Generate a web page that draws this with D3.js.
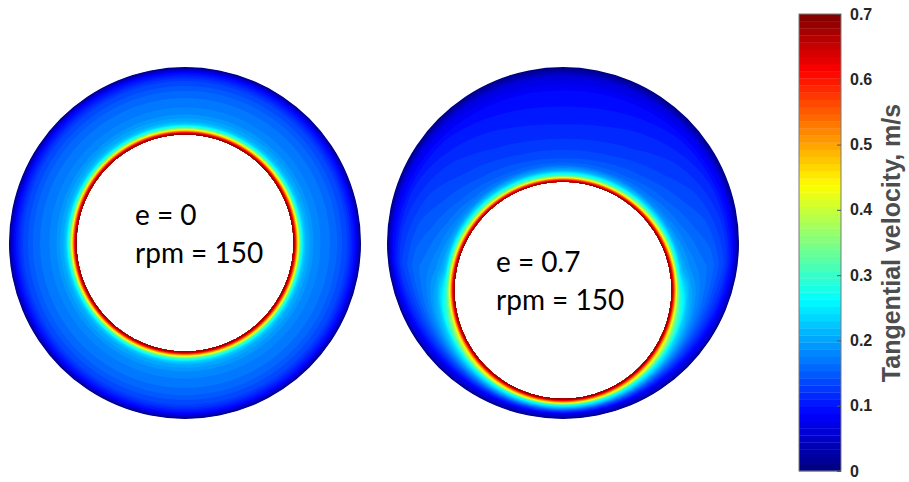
<!DOCTYPE html>
<html>
<head>
<meta charset="utf-8">
<script src="https://cdn.jsdelivr.net/npm/d3@7"></script>
<style>
  body { margin: 0; background: #fff; }
  svg { display: block; }
  .note { font-family: Lato, "Open Sans", sans-serif; font-size: 28px; fill: #000; }
  .cbtick { font-family: "Liberation Sans", Arial, sans-serif; font-weight: bold; font-size: 16px; fill: #262626; }
  .cblabel { font-family: "Liberation Sans", Arial, sans-serif; font-weight: bold; font-size: 25px; fill: #4d4d4d; }
</style>
</head>
<body>
<div id="chart"></div>
<script>
// normalised position across the gap (0 = rotating inner wall, 1 = outer wall)
var gapPos = [0, 0.02, 0.04, 0.06, 0.1, 0.15, 0.2, 0.3, 0.45, 0.6, 0.8, 0.92, 1];

// tangential velocity (m/s)
var profileSide   = [0.70, 0.64, 0.55, 0.46, 0.31, 0.23, 0.205, 0.185, 0.17, 0.16, 0.13, 0.09, 0];
var profileTop    = [0.70, 0.55, 0.38, 0.28, 0.20, 0.155, 0.14, 0.125, 0.11, 0.10, 0.085, 0.06, 0];
var profileBottom = [0.70, 0.69, 0.67, 0.65, 0.60, 0.52, 0.46, 0.30, 0.21, 0.13, 0.06, 0.025, 0];

// gap width (px) at which each eccentric profile was read
var gapKeys = [19, 69, 117];

var cases = [
  { e: 0,   label: ["e = 0", "rpm = 150"] },
  { e: 0.7, label: ["e = 0.7", "rpm = 150"] }
];

var cbTicks = [0, 0.1, 0.2, 0.3, 0.4, 0.5, 0.6, 0.7];
var vMax = 0.7;
var nLevels = 64;

var W = 909, H = 482;
var svg = d3.select('#chart').append('svg')
  .attr('width', W)
  .attr('height', H);

// MATLAB style jet map
function jet(t) {
  var c = function(v) { return Math.max(0, Math.min(1, v)); };
  var r = c(Math.min(4 * t - 1.5, -4 * t + 4.5));
  var g = c(Math.min(4 * t - 0.5, -4 * t + 3.5));
  var b = c(Math.min(4 * t + 0.5, -4 * t + 2.5));
  return d3.rgb(r * 255, g * 255, b * 255).toString();
}

var levels = d3.range(nLevels).map(function(i) { return i * vMax / nLevels; });
var bandColor = d3.scaleQuantize()
  .domain([0, vMax])
  .range(d3.range(nLevels).map(function(i) { return jet((i + 0.5) / nLevels); }));

var sideScale = d3.scaleLinear().domain(gapPos).range(profileSide).clamp(true);
var topScale = d3.scaleLinear().domain(gapPos).range(profileTop).clamp(true);
var botScale = d3.scaleLinear().domain(gapPos).range(profileBottom).clamp(true);
var blendLow = d3.scaleLinear().domain([gapKeys[0], gapKeys[1]]).range([0, 1]).clamp(true);
var blendHigh = d3.scaleLinear().domain([gapKeys[1], gapKeys[2]]).range([0, 1]).clamp(true);

var Ro = 176, Ri = 108.5;
var plots = [
  { cx: 185, cy: 243, tx: 135, ty: 225 },
  { cx: 563, cy: 243, tx: 496, ty: 272 }
];

plots.forEach(function(p, k) {
  var cs = cases[k];
  var off = cs.e * (Ro - Ri);
  var ix = p.cx, iy = p.cy + off;
  var pad = 2;
  var x0 = Math.floor(p.cx - Ro - pad), y0 = Math.floor(p.cy - Ro - pad);
  var n = Math.ceil(2 * Ro + 2 * pad);
  var wx = ix - p.cx, wy = iy - p.cy;
  var ww = wx * wx + wy * wy;

  var values = new Float64Array(n * n);
  for (var j = 0; j < n; j++) {
    for (var i = 0; i < n; i++) {
      var px = x0 + i + 0.5, py = y0 + j + 0.5;
      var dx = px - ix, dy = py - iy;
      var r = Math.sqrt(dx * dx + dy * dy) || 1e-6;
      var ux = dx / r, uy = dy / r;
      var uw = ux * wx + uy * wy;
      var t = -uw + Math.sqrt(uw * uw - ww + Ro * Ro);
      var gap = t - Ri;
      var s = (r - Ri) / gap;
      var v;
      if (s <= 0) v = vMax;
      else if (s >= 1) v = 0;
      else if (cs.e === 0) v = sideScale(s);
      else if (gap <= gapKeys[1]) {
        var a = blendLow(gap);
        v = (1 - a) * botScale(s) + a * sideScale(s);
      } else {
        var b = blendHigh(gap);
        v = (1 - b) * sideScale(s) + b * topScale(s);
      }
      values[j * n + i] = v;
    }
  }

  var contours = d3.contours().size([n, n]).thresholds(levels)(values);

  var clipId = 'annulus' + k;
  svg.append('clipPath').attr('id', clipId)
    .append('path')
    .attr('clip-rule', 'evenodd')
    .attr('d', d3.arc()({ innerRadius: 0, outerRadius: Ro, startAngle: 0, endAngle: 2 * Math.PI }).replace(/Z$/, '') +
      'Z' + 'M' + (wx + Ri) + ',' + wy + 'A' + Ri + ',' + Ri + ' 0 1,0 ' + (wx - Ri) + ',' + wy + 'A' + Ri + ',' + Ri + ' 0 1,0 ' + (wx + Ri) + ',' + wy + 'Z')
    .attr('transform', 'translate(' + p.cx + ',' + p.cy + ')');

  var g = svg.append('g').attr('clip-path', 'url(#' + clipId + ')');
  g.append('g')
    .attr('transform', 'translate(' + x0 + ',' + y0 + ')')
    .selectAll('path')
    .data(contours)
    .join('path')
    .attr('d', d3.geoPath())
    .attr('fill', function(d) { return bandColor(d.value + 1e-9); });

  svg.append('text').attr('class', 'note')
    .attr('x', p.tx).attr('y', p.ty)
    .text(cs.label[0]);
  svg.append('text').attr('class', 'note')
    .attr('x', p.tx).attr('y', p.ty + 38)
    .text(cs.label[1]);
});

// colour bar
var cbX = 799, cbW = 42;
var cbY = d3.scaleLinear().domain([0, vMax]).range([471, 14]);
var cb = svg.append('g');
cb.selectAll('rect.band')
  .data(levels)
  .join('rect')
  .attr('class', 'band')
  .attr('x', cbX)
  .attr('width', cbW)
  .attr('y', function(d) { return cbY(d + vMax / nLevels); })
  .attr('height', function(d) { return cbY(d) - cbY(d + vMax / nLevels) + 0.3; })
  .attr('fill', function(d) { return bandColor(d + 1e-9); });

cb.append('rect')
  .attr('x', cbX).attr('y', cbY(vMax))
  .attr('width', cbW).attr('height', cbY(0) - cbY(vMax))
  .attr('fill', 'none').attr('stroke', '#7a7a7a').attr('stroke-width', 1);

var axis = d3.axisRight(cbY).tickValues(cbTicks)
  .tickFormat(function(d) { return d === 0 ? '0' : d3.format('.1f')(d); })
  .tickSizeInner(-4).tickSizeOuter(0).tickPadding(9);
var ax = cb.append('g').attr('transform', 'translate(' + (cbX + cbW) + ',0)').call(axis);
ax.attr('font-size', null).attr('font-family', null);
ax.select('.domain').remove();
ax.selectAll('line').attr('stroke', '#555');
ax.selectAll('text').attr('class', 'cbtick').attr('fill', null);

svg.append('text').attr('class', 'cblabel')
  .attr('transform', 'translate(893,243) rotate(-90)')
  .attr('text-anchor', 'middle')
  .attr('dominant-baseline', 'middle')
  .text('Tangential velocity, m/s');
</script>
</body>
</html>
